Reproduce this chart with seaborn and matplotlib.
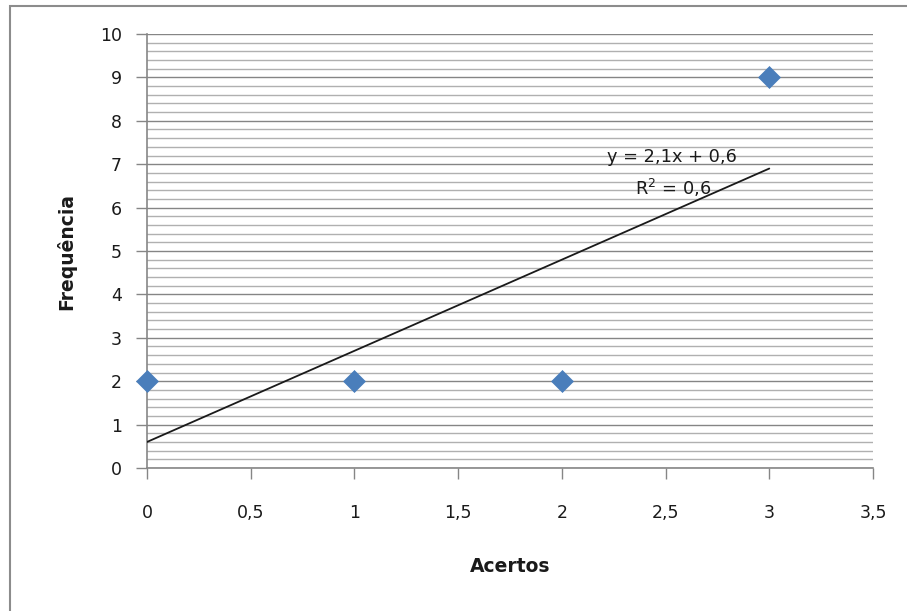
import numpy as np
import pandas as pd
import seaborn as sns
import matplotlib
matplotlib.use("Agg")
import matplotlib.pyplot as plt
from matplotlib.ticker import MultipleLocator, FuncFormatter
from matplotlib.patches import Rectangle

# data
acertos = [0, 1, 2, 3]
frequencia = [2, 2, 2, 9]
x_ticks = [0, 0.5, 1, 1.5, 2, 2.5, 3, 3.5]
y_ticks = list(range(0, 11))
x_label = "Acertos"
y_label = "Frequência"

sns.set_theme(style="white")
plt.rcParams['font.family'] = ['DejaVu Sans']

df = pd.DataFrame({"Acertos": acertos, "Frequência": frequencia})

fig = plt.figure(figsize=(9.07, 6.11), dpi=100)
ax = fig.add_axes([147 / 907, 1 - 468 / 611, 726 / 907, 434 / 611])

# chart border
fig.patches.append(Rectangle((10 / 907, -0.1), 1.2, 1 - 6 / 611 + 0.1,
                             transform=fig.transFigure, fill=False,
                             edgecolor="#8c8c8c", linewidth=1.5, zorder=0))

ax.set_xlim(0, 3.5)
ax.set_ylim(0, 10)
ax.set_yticks(y_ticks)
ax.yaxis.set_minor_locator(MultipleLocator(0.2))
ax.set_xticks(x_ticks)

fmt = FuncFormatter(lambda v, p: ("%g" % v).replace(".", ","))
ax.xaxis.set_major_formatter(fmt)
ax.yaxis.set_major_formatter(fmt)

ax.grid(False)
ax.yaxis.grid(True, which="major", color="#858585", linewidth=1.0)
ax.yaxis.grid(True, which="minor", color="#b0b0b0", linewidth=1.0)
ax.set_axisbelow(True)

for s in ["top", "right"]:
    ax.spines[s].set_visible(False)
for s in ["left", "bottom"]:
    ax.spines[s].set_color("#868686")
    ax.spines[s].set_linewidth(1.2)

ax.tick_params(axis="y", which="major", direction="out", length=8, width=1,
               color="#868686", pad=10, labelsize=12.5, labelcolor="#1a1a1a", left=True)
ax.tick_params(axis="y", which="minor", length=0)
ax.tick_params(axis="x", which="major", direction="out", length=8, width=1,
               color="#868686", pad=18, labelsize=12.5, labelcolor="#1a1a1a", bottom=True)

# trend line
slope, intercept = np.polyfit(acertos, frequencia, 1)
xs = np.array([min(acertos), max(acertos)])
ax.plot(xs, slope * xs + intercept, color="#1a1a1a", linewidth=1.3, zorder=3)
pred = slope * np.array(acertos) + intercept
r2 = 1 - np.sum((np.array(frequencia) - pred) ** 2) / np.sum((np.array(frequencia) - np.mean(frequencia)) ** 2)

sns.scatterplot(data=df, x="Acertos", y="Frequência", marker="D", s=125,
                color="#4a7ebb", edgecolor="#4a7ebb", linewidth=0.5,
                ax=ax, zorder=4, clip_on=False)

eq = ("y = %.1fx + %.1f" % (slope, intercept)).replace(".", ",")
r2t = ("R$^2$ = %.1f" % r2).replace(".", ",")
ax.text(2.531, 7.17, eq, ha="center", va="center", fontsize=12.8, color="#1a1a1a")
ax.text(2.536, 6.45, r2t, ha="center", va="center", fontsize=12.8, color="#1a1a1a")

ax.set_xlabel(x_label, fontsize=13.5, fontweight="bold", color="#1a1a1a", labelpad=25)
ax.set_ylabel(y_label, fontsize=13.5, fontweight="bold", color="#1a1a1a", labelpad=17)

fig.savefig("out.png", dpi=100)
